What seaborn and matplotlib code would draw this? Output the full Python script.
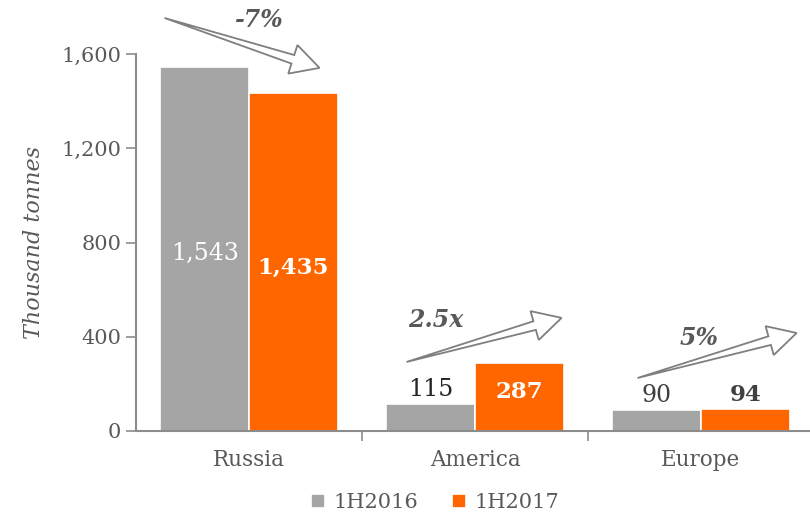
import matplotlib
matplotlib.use("Agg")
import matplotlib.pyplot as plt
from matplotlib.patches import Polygon
import numpy as np
import seaborn as sns
import pandas as pd

# data
regions = ["Russia", "America", "Europe"]
periods = ["1H2016", "1H2017"]
vals_2016 = [1543, 115, 90]
vals_2017 = [1435, 287, 94]
changes = ["-7%", "2.5x", "5%"]

GREY = "#A5A5A5"
ORANGE = "#FF6600"
TXT = "#595959"
AXC = "#8C8C8C"

sns.set_style("white")
plt.rcParams["font.family"] = ["DejaVu Serif"]

df = pd.DataFrame({
    "region": regions * 2,
    "period": [periods[0]] * 3 + [periods[1]] * 3,
    "value": vals_2016 + vals_2017,
})

fig = plt.figure(figsize=(8.1, 5.13), dpi=100)
ax = fig.add_axes([136 / 810, 82 / 513, 678 / 810, 377 / 513])

sns.barplot(data=df, x="region", y="value", hue="period", order=regions,
            hue_order=periods, palette=[GREY, ORANGE], width=0.785,
            edgecolor="white", linewidth=1.2, saturation=1, ax=ax)

ax.set_ylim(0, 1600)
ax.set_xlim(-0.5, 2.5)
ax.set_yticks([0, 400, 800, 1200, 1600])
ax.set_yticklabels(["0", "400", "800", "1,200", "1,600"])
ax.set_xlabel("")
ax.set_ylabel("Thousand tonnes", fontsize=16, style="italic", color=TXT, labelpad=12)
ax.tick_params(axis="y", labelsize=15, labelcolor=TXT, length=7, color=AXC, width=1.2, direction="out", left=True)
ax.tick_params(axis="x", labelsize=15.5, labelcolor=TXT, length=0, pad=13)
ax.set_xticks([0.5, 1.5], minor=True)
ax.tick_params(axis="x", which="minor", length=7, color=AXC, width=1.2, direction="out", bottom=True)
for s in ["top", "right"]:
    ax.spines[s].set_visible(False)
for s in ["left", "bottom"]:
    ax.spines[s].set_color(AXC)
    ax.spines[s].set_linewidth(1.5)

# bar value labels
off = 0.196
ax.text(0 - off, vals_2016[0] / 2 - 16, "1,543", ha="center", va="center", color="white", fontsize=17)
ax.text(0 + off, vals_2017[0] / 2 - 25, "1,435", ha="center", va="center", color="white", fontsize=16.5, fontweight="bold")
ax.text(1 - off, vals_2016[1] + 12, "115", ha="center", va="bottom", color="#262626", fontsize=17)
ax.text(1 + off, vals_2017[1] - 120, "287", ha="center", va="center", color="white", fontsize=16.5, fontweight="bold")
ax.text(2 - off, vals_2016[2] + 12, "90", ha="center", va="bottom", color="#404040", fontsize=17)
ax.text(2 + off, vals_2017[2] + 12, "94", ha="center", va="bottom", color="#404040", fontsize=16.5, fontweight="bold")


def hollow_arrow(ax, p0, p1, shaft=9, head_w=30, head_l=28):
    # tapered shaft from a point at p0, open head at p1 (built in pixels)
    a = ax.transData.transform(p0)
    b = ax.transData.transform(p1)
    d = b - a
    L = np.hypot(*d)
    u = d / L
    n = np.array([-u[1], u[0]])
    base = b - u * head_l
    pts = [a,
           base + n * shaft / 2,
           base + n * head_w / 2,
           b,
           base - n * head_w / 2,
           base - n * shaft / 2]
    poly = Polygon(pts, closed=True, transform=None, facecolor="white",
                   edgecolor="#7F7F7F", linewidth=1.3, zorder=5, clip_on=False)
    ax.add_artist(poly)


# change arrows
arrows = [((-0.374, 1753), (0.312, 1541)),
          ((0.697, 293), (1.383, 480)),
          ((1.719, 225), (2.423, 416))]
text_pos = [(0.04, 1744), (0.825, 471), (1.99, 395)]
for (p0, p1), lab, tp in zip(arrows, changes, text_pos):
    hollow_arrow(ax, p0, p1)
    ax.text(tp[0], tp[1], lab, ha="center", va="center", fontsize=17, fontweight="bold",
            style="italic", color="#595959", zorder=6, clip_on=False)

leg = ax.legend(loc="upper center", bbox_to_anchor=(0.441, -0.115), ncol=2, frameon=False,
                fontsize=15, handlelength=0.7, handleheight=0.7, handletextpad=0.4, columnspacing=1.6)
for t in leg.get_texts():
    t.set_color(TXT)

fig.savefig("out.png", dpi=100)
